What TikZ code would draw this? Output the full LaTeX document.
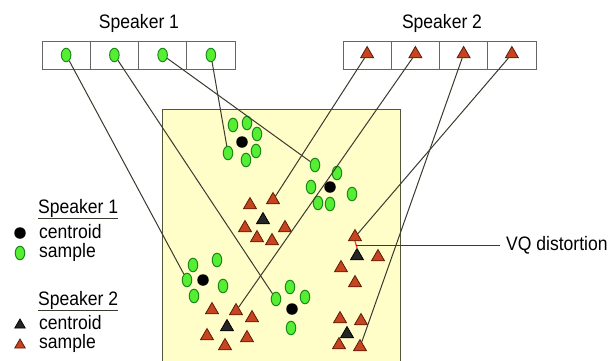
\documentclass[tikz,border=0pt]{standalone}
\usepackage{fontspec}
\setmainfont{Liberation Sans}[FakeStretch=0.9]
\usetikzlibrary{shapes.geometric}
\definecolor{paleyel}{HTML}{FFFDC8}
\definecolor{rectedge}{HTML}{55553A}
\definecolor{linec}{HTML}{3A3A2E}
\definecolor{greenf}{HTML}{55EE33}
\definecolor{greend}{HTML}{1A8A1A}
\definecolor{redf}{HTML}{C8441E}
\definecolor{redd}{HTML}{5A1A0A}
\definecolor{cellc}{HTML}{666666}
\definecolor{vqred}{HTML}{FF3030}
\tikzset{
  samp1/.style={ellipse,draw=greend,fill=greenf,line width=1pt,minimum width=9.5pt,minimum height=13.5pt,inner sep=0pt},
  cent1/.style={circle,fill=black,minimum size=11.5pt,inner sep=0pt},
  samp2/.style={regular polygon,regular polygon sides=3,draw=redd,fill=redf,line width=0.8pt,minimum size=15pt,inner sep=0pt},
  cent2/.style={regular polygon,regular polygon sides=3,draw=black,fill=black!85,line width=0.8pt,minimum size=15pt,inner sep=0pt},
  cell/.style={rectangle,draw=cellc,line width=1pt,minimum width=48.25pt,minimum height=28pt,inner sep=0pt},
  conn/.style={draw=linec,line width=1pt},
  lbl/.style={font=\fontsize{19.5}{22}\selectfont,inner sep=0pt},
}
\begin{document}
\begin{tikzpicture}[x=1pt,y=-1pt]
\clip (0,0) rectangle (614,360);
\fill[white] (0,0) rectangle (614,360);
% region
\draw[rectedge,fill=paleyel,line width=1pt] (162,109) rectangle (400,380);
% codebooks
\foreach \i/\n in {0/a,1/b,2/c,3/d}{
  \node[cell] (k1\n) at ({66.125+48.25*\i},55) {};
  \node[cell] (k2\n) at ({367.125+48.25*\i},55) {};
}
\node[lbl] (t1) at (139,23) {Speaker 1};
\node[lbl] (t2) at (442,23) {Speaker 2};
\foreach \n in {a,b,c,d}{
  \node[samp1] (s1\n) at (k1\n.center) {};
  \node[samp2] (s2\n) at ([yshift=1pt]k2\n.center) {};
}
% cluster 1 (green, top)
\node[cent1] (g1c) at (242,142) {};
\node[samp1] (g1a) at (233,125) {};
\node[samp1] (g1b) at (247,123) {};
\node[samp1] (g1d) at (257,134) {};
\node[samp1] (g1e) at (228,153) {};
\node[samp1] (g1f) at (256,151) {};
\node[samp1] (g1g) at (246,160) {};
% cluster 2 (green, middle right)
\node[cent1] (g2c) at (330,187) {};
\node[samp1] (g2a) at (315,165) {};
\node[samp1] (g2b) at (337,173) {};
\node[samp1] (g2d) at (311,187) {};
\node[samp1] (g2e) at (352,194) {};
\node[samp1] (g2f) at (318,203) {};
\node[samp1] (g2g) at (330,204) {};
% cluster 3 (green, left)
\node[cent1] (g3c) at (203,280) {};
\node[samp1] (g3a) at (193,265) {};
\node[samp1] (g3b) at (217,260) {};
\node[samp1] (g3d) at (187,280) {};
\node[samp1] (g3e) at (223,286) {};
\node[samp1] (g3f) at (194,296) {};
% cluster 4 (green, bottom)
\node[cent1] (g4c) at (292,309) {};
\node[samp1] (g4a) at (276,299) {};
\node[samp1] (g4b) at (290,287) {};
\node[samp1] (g4d) at (305,297) {};
\node[samp1] (g4e) at (291,328) {};
% cluster A (red, top)
\node[cent2] (rAc) at (263,220) {};
\node[samp2] (rAa) at (250,205) {};
\node[samp2] (rAb) at (273,200) {};
\node[samp2] (rAd) at (245,228) {};
\node[samp2] (rAe) at (285,228) {};
\node[samp2] (rAf) at (257,238) {};
\node[samp2] (rAg) at (272,241) {};
% cluster B (red, bottom left)
\node[cent2] (rBc) at (227,327) {};
\node[samp2] (rBa) at (212,310) {};
\node[samp2] (rBb) at (236,311) {};
\node[samp2] (rBd) at (252,318) {};
\node[samp2] (rBe) at (207,336) {};
\node[samp2] (rBf) at (247,338) {};
\node[samp2] (rBg) at (225,346) {};
% cluster C (red, right top)
\node[cent2] (rCc) at (357,256) {};
\node[samp2] (rCa) at (355,237) {};
\node[samp2] (rCb) at (378,257) {};
\node[samp2] (rCd) at (341,268) {};
\node[samp2] (rCe) at (355,283) {};
% cluster D (red, right bottom)
\node[cent2] (rDc) at (347,334) {};
\node[samp2] (rDa) at (340,319) {};
\node[samp2] (rDb) at (361,321) {};
\node[samp2] (rDd) at (339,345) {};
\node[samp2] (rDe) at (360,347) {};
% connectors
\draw[conn] (s1a) -- (g3d);
\draw[conn] (s1b) -- (g4a);
\draw[conn] (s1c) -- (g2a);
\draw[conn] (s1d) -- (g1e);
\draw[conn] (s2a) -- (rAb);
\draw[conn] (s2b) -- (rBb);
\draw[conn] (s2c) -- (rDe);
\draw[conn] (s2d) -- (rCa);
% VQ distortion
\coordinate (vqm) at (355.5,245);
\draw[vqred,line width=1.2pt] (rCa.south) -- (rCc.north);
\node[lbl,anchor=west] (vq) at (506,245) {VQ distortion};
\draw[conn] (vqm) -- (vq.west -| 500,245);
% legend
\node[lbl,anchor=west] (l1) at (38,208) {Speaker 1};
\draw[linec,line width=1pt] ([yshift=-1.5pt]l1.south west) -- ([yshift=-1.5pt]l1.south east);
\node[cent1] (l1c) at (20,233) {};
\node[lbl,anchor=west] (l1ct) at (39,232) {centroid};
\node[samp1] (l1s) at (20,253) {};
\node[lbl,anchor=west] (l1st) at (39,252) {sample};
\node[lbl,anchor=west] (l2) at (38,300) {Speaker 2};
\draw[linec,line width=1pt] ([yshift=-1.5pt]l2.south west) -- ([yshift=-1.5pt]l2.south east);
\node[cent2,minimum size=12pt] (l2c) at (20,325) {};
\node[lbl,anchor=west] (l2ct) at (39,323) {centroid};
\node[samp2,minimum size=12pt] (l2s) at (20,345) {};
\node[lbl,anchor=west] (l2st) at (39,343) {sample};
\end{tikzpicture}
\end{document}
